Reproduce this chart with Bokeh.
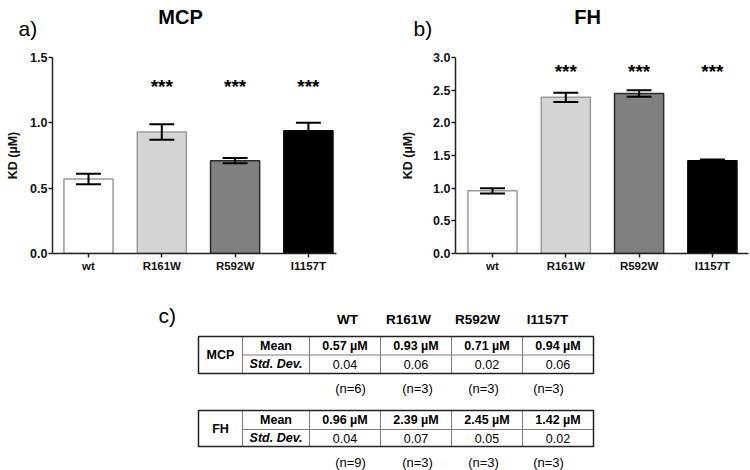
from bokeh.plotting import figure
from bokeh.layouts import row, column
from bokeh.models import (Range1d, FixedTicker, NumeralTickFormatter,
                          ColumnDataSource)
from bokeh.core.properties import value
from bokeh.embed import file_html
from bokeh.resources import INLINE

# ---------------- data ----------------
categories = ["wt", "R161W", "R592W", "I1157T"]
table_headers = ["WT", "R161W", "R592W", "I1157T"]
significance = ["", "***", "***", "***"]
panel_titles = ["MCP", "FH"]
panel_letters = ["a)", "b)", "c)"]

mcp_mean = [0.57, 0.93, 0.71, 0.94]
mcp_sd = [0.04, 0.06, 0.02, 0.06]
mcp_n = [6, 3, 3, 3]

fh_mean = [0.96, 2.39, 2.45, 1.42]
fh_sd = [0.04, 0.07, 0.05, 0.02]
fh_n = [9, 3, 3, 3]

mcp_yticks = [0.0, 0.5, 1.0, 1.5]
fh_yticks = [0.0, 0.5, 1.0, 1.5, 2.0, 2.5, 3.0]

# ---------------- styles / layout ----------------
bar_fill = ["#ffffff", "#d4d4d4", "#808080", "#000000"]
bar_line = ["#9a9a9a", "#9a9a9a", "#2a2a2a", "#000000"]
FONT = "Liberation Sans"
PAGE_W = 750
SPACING = 73.3           # px between category centres
HEAD_TOP, HEAD_BOTTOM = 0, 40       # page px of header strip
FIG_BOTTOM = 282
FRAME_TOP, FRAME_BOTTOM = 57, 253   # page px
TABLE_BOTTOM = 470


def page_strip(width, top, bottom, left=0):
    f = figure(width=width, height=bottom - top,
               x_range=Range1d(left, left + width),
               y_range=Range1d(bottom, top), output_backend="svg",
               toolbar_location=None, title=None, min_border=0,
               x_axis_type=None, y_axis_type=None)
    f.outline_line_color = None
    return f


def add_text(f, x, y, s, style="normal", size="12.5px", align="center",
             baseline="middle"):
    f.text(x=x, y=y, text=s, text_align=align, text_baseline=baseline,
           text_font=value(FONT), text_font_style=style,
           text_font_size=size, text_color="black")


# ---------------- header strip (titles + panel letters) ----------------
head = page_strip(PAGE_W, HEAD_TOP, HEAD_BOTTOM)
add_text(head, [180, 587], [16, 16], panel_titles, style="bold",
         size="20px", baseline="alphabetic")
add_text(head, [18, 413], [28, 28], panel_letters[:2], size="21px",
         align="left", baseline="alphabetic")


def make_panel(means, sds, yticks, ymax, fig_left, fig_right,
               frame_left, frame_right, first_center, ylabel_standoff,
               star_px):
    x_start = -(first_center - frame_left) / SPACING
    x_end = x_start + (frame_right - frame_left) / SPACING

    def dy(py):
        return (FRAME_BOTTOM - py) / (FRAME_BOTTOM - FRAME_TOP) * ymax

    p = figure(width=fig_right - fig_left, height=FIG_BOTTOM - HEAD_BOTTOM,
               x_range=Range1d(x_start, x_end), y_range=Range1d(0, ymax),
               output_backend="svg", toolbar_location=None, title=None,
               min_border_left=frame_left - fig_left,
               min_border_right=fig_right - frame_right,
               min_border_top=FRAME_TOP - HEAD_BOTTOM,
               min_border_bottom=FIG_BOTTOM - FRAME_BOTTOM)
    p.outline_line_color = None
    p.xgrid.visible = False
    p.ygrid.visible = False

    xs = list(range(len(categories)))
    cap = 0.17
    src = ColumnDataSource(dict(
        x=xs, top=means,
        lo=[m - s for m, s in zip(means, sds)],
        hi=[m + s for m, s in zip(means, sds)],
        cl=[x - cap for x in xs], cr=[x + cap for x in xs],
        fill=bar_fill, line=bar_line, sig=significance))

    p.vbar(x="x", top="top", bottom=0, width=0.67, fill_color="fill",
           line_color="line", line_width=1.5, source=src)
    p.segment(x0="x", y0="lo", x1="x", y1="hi", line_color="black",
              line_width=2, source=src)
    p.segment(x0="cl", y0="hi", x1="cr", y1="hi", line_color="black",
              line_width=2, source=src)
    p.segment(x0="cl", y0="lo", x1="cr", y1="lo", line_color="black",
              line_width=2, source=src)
    p.text(x="x", y=dy(star_px), text="sig", source=src,
           text_align="center", text_baseline="alphabetic",
           text_font=value(FONT), text_font_style="bold",
           text_font_size="19px", text_color="black")

    for ax in (p.xaxis[0], p.yaxis[0]):
        ax.axis_line_width = 1.5
        ax.axis_line_color = "#222222"
        ax.major_tick_line_width = 1.5
        ax.major_tick_line_color = "#222222"
        ax.major_tick_out = 4
        ax.major_tick_in = 0
        ax.minor_tick_out = 0
        ax.minor_tick_in = 0
        ax.major_label_text_font = FONT
        ax.major_label_text_font_style = "bold"
        ax.major_label_text_color = "#111111"

    p.xaxis.ticker = FixedTicker(ticks=xs)
    p.xaxis.major_label_overrides = {i: c for i, c in enumerate(categories)}
    p.xaxis.major_label_text_font_size = "11.5px"
    p.xaxis.major_label_standoff = 2

    p.yaxis.ticker = FixedTicker(ticks=yticks)
    p.yaxis.formatter = NumeralTickFormatter(format="0.0")
    p.yaxis.major_label_text_font_size = "12.5px"
    p.yaxis.major_label_standoff = 1
    p.yaxis.axis_label = "KD (\u00b5M)"
    p.yaxis.axis_label_text_font = FONT
    p.yaxis.axis_label_text_font_style = "bold"
    p.yaxis.axis_label_text_font_size = "12.5px"
    p.yaxis.axis_label_text_color = "#111111"
    p.yaxis.axis_label_standoff = ylabel_standoff
    return p


pa = make_panel(mcp_mean, mcp_sd, mcp_yticks, 1.5,
                fig_left=0, fig_right=395, frame_left=52, frame_right=336,
                first_center=88, ylabel_standoff=7, star_px=86)
pb = make_panel(fh_mean, fh_sd, fh_yticks, 3.0,
                fig_left=395, fig_right=PAGE_W, frame_left=455,
                frame_right=748, first_center=492, ylabel_standoff=15,
                star_px=71)

# ---------------- table ----------------
t = page_strip(PAGE_W, FIG_BOTTOM, TABLE_BOTTOM)

TBL_LEFT, TBL_RIGHT = 198, 593
COL_X = [242, 309, 380, 451, 522]
val_cx = [(a + b) / 2 for a, b in zip(COL_X[1:], COL_X[2:] + [TBL_RIGHT])]
head_cx = [347, 408, 477, 547]
n_cx = [350, 417, 483, 548]

add_text(t, [158], [315], panel_letters[2:], size="21px", align="left")
add_text(t, head_cx, [319] * 4, table_headers, style="bold", size="13.5px")


def block(name, means, sds, ns, top, mid, bottom, n_y):
    t.segment(x0=COL_X, y0=[top] * 5, x1=COL_X, y1=[bottom] * 5,
              line_color="#7a7a7a", line_width=1)
    t.segment(x0=[COL_X[0]], y0=[mid], x1=[TBL_RIGHT], y1=[mid],
              line_color="#7a7a7a", line_width=1)
    t.quad(left=[TBL_LEFT], right=[TBL_RIGHT], top=[top], bottom=[bottom],
           fill_color=None, line_color="#222222", line_width=1.5)
    r1 = (top + mid) / 2
    r2 = (mid + bottom) / 2
    lab_cx = (COL_X[0] + COL_X[1]) / 2
    add_text(t, [(TBL_LEFT + COL_X[0]) / 2], [(top + bottom) / 2], [name],
             style="bold")
    add_text(t, [lab_cx], [r1], ["Mean"], style="bold")
    add_text(t, [lab_cx], [r2], ["Std. Dev."], style="bold italic")
    add_text(t, val_cx, [r1] * 4, [f"{m:.2f} \u00b5M" for m in means],
             style="bold")
    add_text(t, val_cx, [r2] * 4, [f"{s:.2f}" for s in sds])
    add_text(t, n_cx, [n_y] * 4, [f"(n={n})" for n in ns], size="13px")


block("MCP", mcp_mean, mcp_sd, mcp_n, 336, 354.5, 373, 388)
block("FH", fh_mean, fh_sd, fh_n, 410, 429, 446, 462)

layout = column(head, row(pa, pb), t)
open("out.html", "w").write(file_html(layout, INLINE))
